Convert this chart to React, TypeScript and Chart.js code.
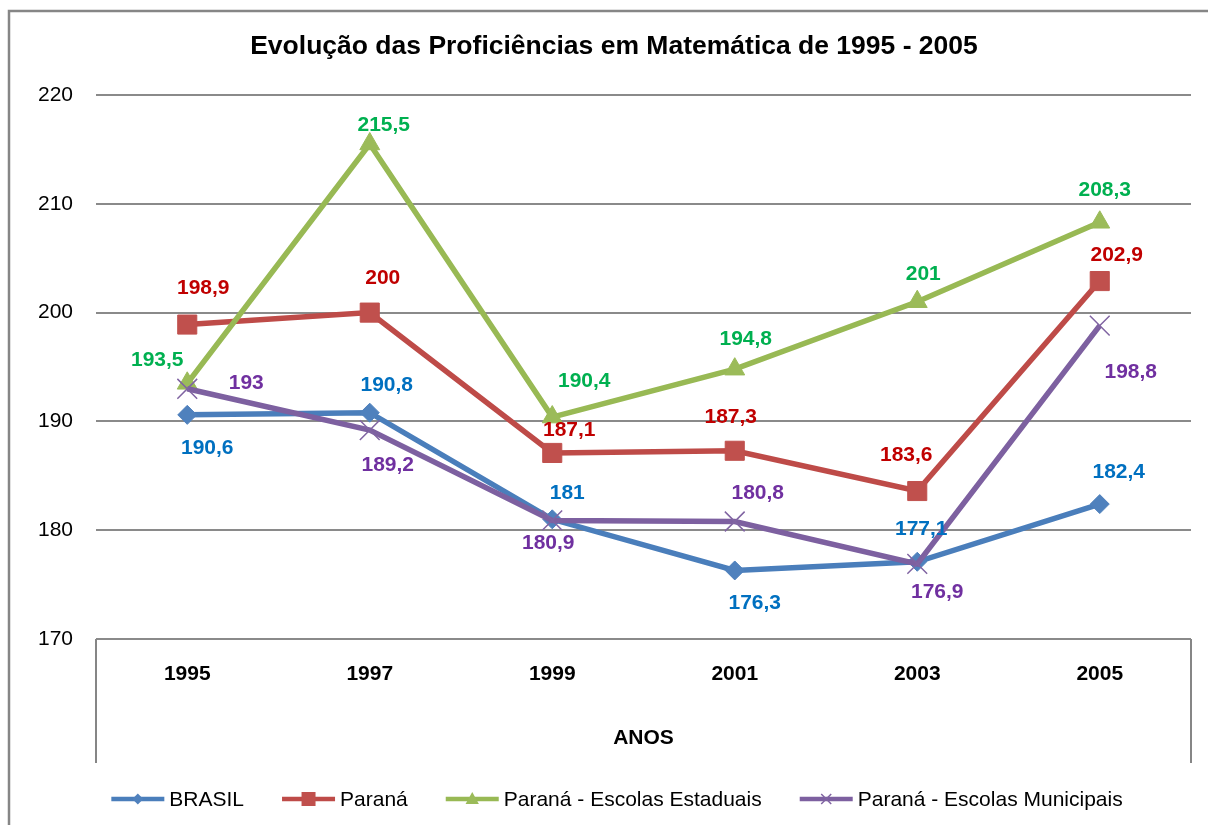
import React, { useEffect, useRef } from "react";
import { Chart, registerables } from "chart.js";

Chart.register(...registerables);

// ---- data ----
const categories = ["1995", "1997", "1999", "2001", "2003", "2005"];
const seriesNames = [
  "BRASIL",
  "Paraná",
  "Paraná - Escolas Estaduais",
  "Paraná - Escolas Municipais",
];
const brasil = [190.6, 190.8, 181, 176.3, 177.1, 182.4];
const parana = [198.9, 200, 187.1, 187.3, 183.6, 202.9];
const estaduais = [193.5, 215.5, 190.4, 194.8, 201, 208.3];
const municipais = [193, 189.2, 180.9, 180.8, 176.9, 198.8];
const yMin = 170;
const yMax = 220;
const yStep = 10;
const chartTitle = "Evolução das Proficiências em Matemática de 1995 - 2005";
const xTitle = "ANOS";

// ---- styles ----
const lineColors = ["#4A7EBB", "#BE4B48", "#98B954", "#7D60A0"];
const markerColors = ["#4F81BD", "#C0504D", "#9BBB59", "#8064A2"];
const labelColors = ["#0070C0", "#C00000", "#00B050", "#7030A0"];
const markerStyles = ["rectRot", "rect", "triangle", "crossRot"];
const markerRadius = [9.5, 13.5, 11.5, 14];
// label placement offsets (dx, dy) relative to each point
const labelOffsets = [
  [[20, 33], [17, -27], [15, -26], [20, 33], [4, -33], [19, -32]],
  [[16, -36], [13, -34], [17, -23], [-4, -34], [-11, -36], [17, -26]],
  [[-30, -23], [14, -19], [32, -36], [11, -30], [6, -28], [5, -32]],
  [[59, -6], [18, 35], [-4, 23], [23, -28], [20, 28], [31, 47]],
];

const FONT = "'Liberation Sans', Arial, sans-serif";

function drawMarker(ctx: CanvasRenderingContext2D, style: string, x: number, y: number, r: number, color: string) {
  ctx.save();
  ctx.fillStyle = color;
  ctx.strokeStyle = color;
  ctx.beginPath();
  if (style === "rectRot") {
    ctx.moveTo(x, y - r);
    ctx.lineTo(x + r, y);
    ctx.lineTo(x, y + r);
    ctx.lineTo(x - r, y);
    ctx.closePath();
    ctx.fill();
  } else if (style === "rect") {
    ctx.rect(x - r, y - r, 2 * r, 2 * r);
    ctx.fill();
  } else if (style === "triangle") {
    ctx.moveTo(x, y - r);
    ctx.lineTo(x + r * 0.95, y + r * 0.7);
    ctx.lineTo(x - r * 0.95, y + r * 0.7);
    ctx.closePath();
    ctx.fill();
  } else {
    ctx.lineWidth = 1.5;
    ctx.moveTo(x - r, y - r);
    ctx.lineTo(x + r, y + r);
    ctx.moveTo(x + r, y - r);
    ctx.lineTo(x - r, y + r);
    ctx.stroke();
  }
  ctx.restore();
}

const decorPlugin = {
  id: "decor",
  beforeDraw(chart: any) {
    const ctx = chart.ctx as CanvasRenderingContext2D;
    ctx.save();
    ctx.fillStyle = "#ffffff";
    ctx.fillRect(0, 0, chart.width, chart.height);
    // outer border
    ctx.strokeStyle = "#868686";
    ctx.lineWidth = 2.5;
    ctx.strokeRect(9, 11, chart.width + 20, chart.height + 20);
    // title
    ctx.fillStyle = "#000";
    ctx.font = `bold 26.5px ${FONT}`;
    ctx.textAlign = "center";
    ctx.textBaseline = "middle";
    ctx.fillText(chartTitle, 614, 47);
    ctx.restore();
  },
  afterDraw(chart: any) {
    const ctx = chart.ctx as CanvasRenderingContext2D;
    const area = chart.chartArea;
    const xs = chart.scales.x;
    ctx.save();
    // vertical lines bounding the category axis area
    ctx.strokeStyle = "#868686";
    ctx.lineWidth = 2;
    ctx.beginPath();
    ctx.moveTo(area.left, area.bottom);
    ctx.lineTo(area.left, xs.bottom);
    ctx.moveTo(area.right, area.bottom);
    ctx.lineTo(area.right, xs.bottom);
    ctx.stroke();

    // legend
    ctx.font = `21px ${FONT}`;
    ctx.textBaseline = "middle";
    ctx.textAlign = "left";
    const sample = 53;
    const gapText = 5;
    const gapItem = 38;
    const widths = seriesNames.map((n) => sample + gapText + ctx.measureText(n).width);
    const total = widths.reduce((a, b) => a + b, 0) + gapItem * (seriesNames.length - 1);
    let x = 617 - total / 2;
    const y = 799;
    const legendR = [5.5, 7, 7, 5];
    seriesNames.forEach((n, i) => {
      ctx.strokeStyle = lineColors[i];
      ctx.lineWidth = 4.5;
      ctx.beginPath();
      ctx.moveTo(x, y);
      ctx.lineTo(x + sample, y);
      ctx.stroke();
      drawMarker(ctx, markerStyles[i], x + sample / 2, y, legendR[i], markerColors[i]);
      ctx.fillStyle = "#000";
      ctx.fillText(n, x + sample + gapText, y + 1);
      x += widths[i] + gapItem;
    });
    ctx.restore();
  },
  afterDatasetsDraw(chart: any) {
    const ctx = chart.ctx as CanvasRenderingContext2D;
    ctx.save();
    ctx.font = `bold 21px ${FONT}`;
    ctx.textAlign = "center";
    ctx.textBaseline = "middle";
    chart.data.datasets.forEach((ds: any, di: number) => {
      const meta = chart.getDatasetMeta(di);
      meta.data.forEach((pt: any, i: number) => {
        const v = ds.data[i];
        const [dx, dy] = labelOffsets[di][i];
        ctx.fillStyle = labelColors[di];
        ctx.fillText(String(v).replace(".", ","), pt.x + dx, pt.y + dy);
      });
    });
    ctx.restore();
  },
};

export default function App() {
  const ref = useRef<HTMLCanvasElement | null>(null);
  useEffect(() => {
    if (!ref.current) return;
    const seriesData = [brasil, parana, estaduais, municipais];
    const chart = new Chart(ref.current, {
      type: "line",
      data: {
        labels: categories,
        datasets: seriesData.map((d, i) => ({
          label: seriesNames[i],
          data: d,
          borderColor: lineColors[i],
          backgroundColor: markerColors[i],
          borderWidth: 5.5,
          pointStyle: markerStyles[i] as any,
          pointRadius: markerRadius[i],
          pointBackgroundColor: markerColors[i],
          pointBorderColor: markerColors[i],
          pointBorderWidth: i === 3 ? 1.5 : 1,
          tension: 0,
          fill: false,
          order: 4 - i,
        })),
      },
      options: {
        responsive: false,
        animation: false,
        devicePixelRatio: 1,
        layout: { padding: { top: 95, left: 0, right: 17, bottom: 62 } },
        plugins: {
          legend: { display: false },
          title: { display: false },
          tooltip: { enabled: false },
        },
        scales: {
          x: {
            offset: true,
            grid: { display: false, drawTicks: false },
            border: { display: false },
            ticks: {
              color: "#000",
              font: { family: FONT, size: 21, weight: "bold" },
              padding: 23,
            },
            title: {
              display: true,
              text: xTitle,
              color: "#000",
              font: { family: FONT, size: 21, weight: "bold" },
              padding: { top: 12, bottom: 12 },
            },
            afterFit: (s: any) => {
              s.height = 124;
            },
          },
          y: {
            min: yMin,
            max: yMax,
            grid: { color: "#8a8a8a", lineWidth: 2, drawTicks: false },
            border: { display: false },
            ticks: {
              stepSize: yStep,
              color: "#000",
              font: { family: FONT, size: 21 },
              padding: 23,
            },
            afterFit: (s: any) => {
              s.width = 96;
            },
          },
        },
      },
      plugins: [decorPlugin],
    });
    return () => chart.destroy();
  }, []);
  return (
    <div style={{ position: "fixed", left: 0, top: 0, width: 1208, height: 825, background: "#fff" }}>
      <canvas ref={ref} width={1208} height={825} style={{ display: "block" }} />
    </div>
  );
}
